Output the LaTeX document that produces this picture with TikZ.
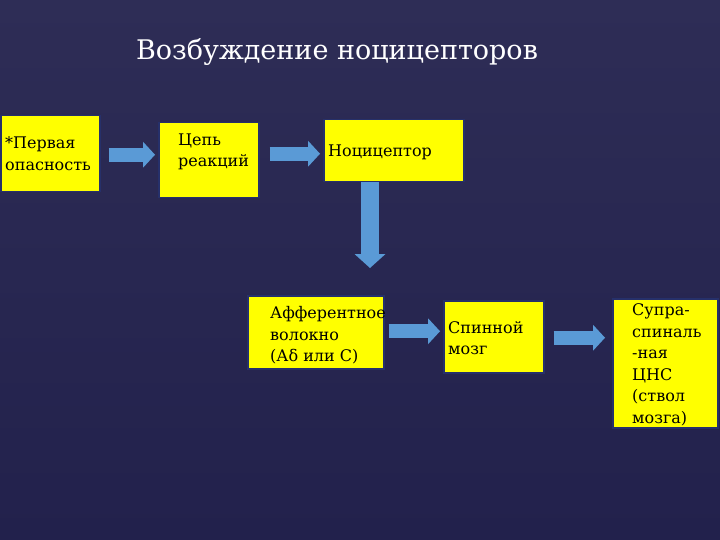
\documentclass[tikz,border=0pt]{standalone}
\usepackage{fontspec}
\setmainfont{DejaVu Serif}
\usetikzlibrary{arrows.meta,calc}
\definecolor{bgtop}{HTML}{2E2D56}
\definecolor{bgmid}{HTML}{38375F}
\definecolor{bgbot}{HTML}{22214C}
\definecolor{boxfill}{HTML}{FFFF00}
\definecolor{boxedge}{HTML}{26306A}
\definecolor{arrowblue}{HTML}{5A9AD6}
\begin{document}
\begin{tikzpicture}[x=1pt,y=-1pt,
  box/.style={draw=boxedge, line width=1.5pt, fill=boxfill, inner sep=0pt, anchor=north west},
  txt/.style={font=\fontsize{16}{21.5}\selectfont, align=left, inner sep=0pt, anchor=west, text=black},
  harrow/.style={draw=arrowblue, line width=14pt, -{Triangle[length=12pt,width=26pt,line width=0pt]}},
  varrow/.style={draw=arrowblue, line width=18pt, -{Triangle[length=14pt,width=31pt,line width=0pt]}}]
\useasboundingbox (0,0) rectangle (720,540);
\shade[top color=bgtop, middle color=bgmid, bottom color=bgbot] (0,0) rectangle (720,540);
\node[text=white, font=\fontsize{27}{32}\selectfont] (title) at (337,52) {Возбуждение ноцицепторов};
% boxes
\node[box, minimum width=99pt, minimum height=76pt] (b1) at (0,115) {};
\node[box, minimum width=100pt, minimum height=75pt] (b2) at (158,122) {};
\node[box, minimum width=140pt, minimum height=62pt] (b3) at (323,119) {};
\node[box, minimum width=136pt, minimum height=73pt] (b4) at (247,295) {};
\node[box, minimum width=100pt, minimum height=72pt] (b5) at (443,300) {};
\node[box, minimum width=105pt, minimum height=129pt] (b6) at (612,298) {};
% texts
\node[txt] (t1) at ([xshift=5pt]b1.west) {*Первая\\опасность};
\node[txt] (t2) at ([xshift=20pt,yshift=8.5pt]b2.west) {Цепь\\реакций};
\node[txt] (t3) at ([xshift=5pt,yshift=-2pt]b3.west) {Ноцицептор};
\node[txt] (t4) at ([xshift=23pt,yshift=-3pt]b4.west) {Афферентное\\волокно\\(Аδ или С)};
\node[txt] (t5) at ([xshift=5pt,yshift=-1.5pt]b5.west) {Спинной\\мозг};
\node[txt] (t6) at ([xshift=20pt,yshift=-1.5pt]b6.west) {Супра-\\спиналь\\-ная\\ЦНС\\(ствол\\мозга)};
% arrows
\draw[harrow] ($(b1.east)+(8,1)$) -- ($(b1.east -| b2.west)+(-3,1)$);
\draw[harrow] ($(b2.east |- b3.west)+(10,3)$) -- ($(b3.west)+(-3,3)$);
\coordinate (dtop) at ($(b3.south west)+(47,0)$);
\coordinate (dend) at ($(b4.north)+(0,-27)$);
\draw[varrow] (dtop) -- (dtop |- dend);
\draw[harrow] ($(b4.east)+(4,-1)$) -- ($(b4.east -| b5.west)+(-3,-1)$);
\draw[harrow] ($(b5.east)+(9,1)$) -- ($(b5.east -| b6.west)+(-7,1)$);
\end{tikzpicture}
\end{document}
